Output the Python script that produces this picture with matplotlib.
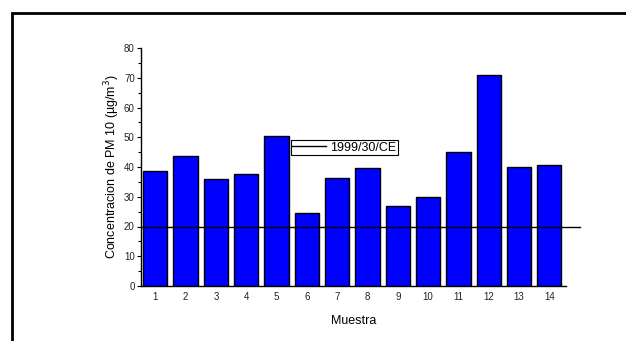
import matplotlib.pyplot as plt
from matplotlib.patches import Rectangle
from matplotlib.ticker import MultipleLocator

plt.rcParams["font.family"] = ["Liberation Sans", "DejaVu Sans"]

# concentraciones medidas por muestra
muestras = list(range(1, 15))
pm10 = [38.8, 43.6, 35.9, 37.5, 50.5, 24.6, 36.4, 39.5, 27.0, 29.9, 44.9, 70.9, 40.0, 40.7]
limite = 20  # valor limite 1999/30/CE

fig = plt.figure(figsize=(6.26, 3.41), dpi=100)
ax = fig.add_axes([141 / 626, 55 / 341, 425 / 626, 238 / 341])

ax.bar(muestras, pm10, width=0.8, color="#0000ff", edgecolor="black", linewidth=1, zorder=2)
ax.plot([0.53, 15.0], [limite, limite], color="black", linewidth=1, clip_on=False,
        zorder=3, label="1999/30/CE")

ax.set_xlim(0.53, 14.55)
ax.set_ylim(0, 80)
ax.set_xticks(muestras)
ax.yaxis.set_major_locator(MultipleLocator(10))
ax.yaxis.set_minor_locator(MultipleLocator(5))
ax.tick_params(axis="x", length=0, pad=4, labelsize=7, labelcolor="#222222")
ax.tick_params(axis="y", which="both", direction="out", length=3, width=0.8, pad=1.5,
               labelsize=7, labelcolor="#222222")
ax.tick_params(axis="y", which="minor", length=2)

for s in ["top", "right"]:
    ax.spines[s].set_visible(False)
for s in ["left", "bottom"]:
    ax.spines[s].set_linewidth(1)

ax.set_xlabel("Muestra", fontsize=9, labelpad=10)
ax.set_ylabel("Concentracion de PM 10 (µg/m$^3$)", fontsize=9, labelpad=1)

leg = ax.legend(loc="upper left", bbox_to_anchor=(0.352, 0.615), fontsize=9, frameon=True,
                fancybox=False, edgecolor="black", framealpha=1, handlelength=2.7,
                handletextpad=0.3, borderpad=0.15, borderaxespad=0)
leg.get_frame().set_linewidth(0.8)

# marco exterior
fig.add_artist(Rectangle((11.5 / 626, -0.1), 1.0, (341 - 13) / 341 + 0.1,
                         transform=fig.transFigure, fill=False, edgecolor="black",
                         linewidth=2, clip_on=False))

fig.savefig("out.png", dpi=100)
